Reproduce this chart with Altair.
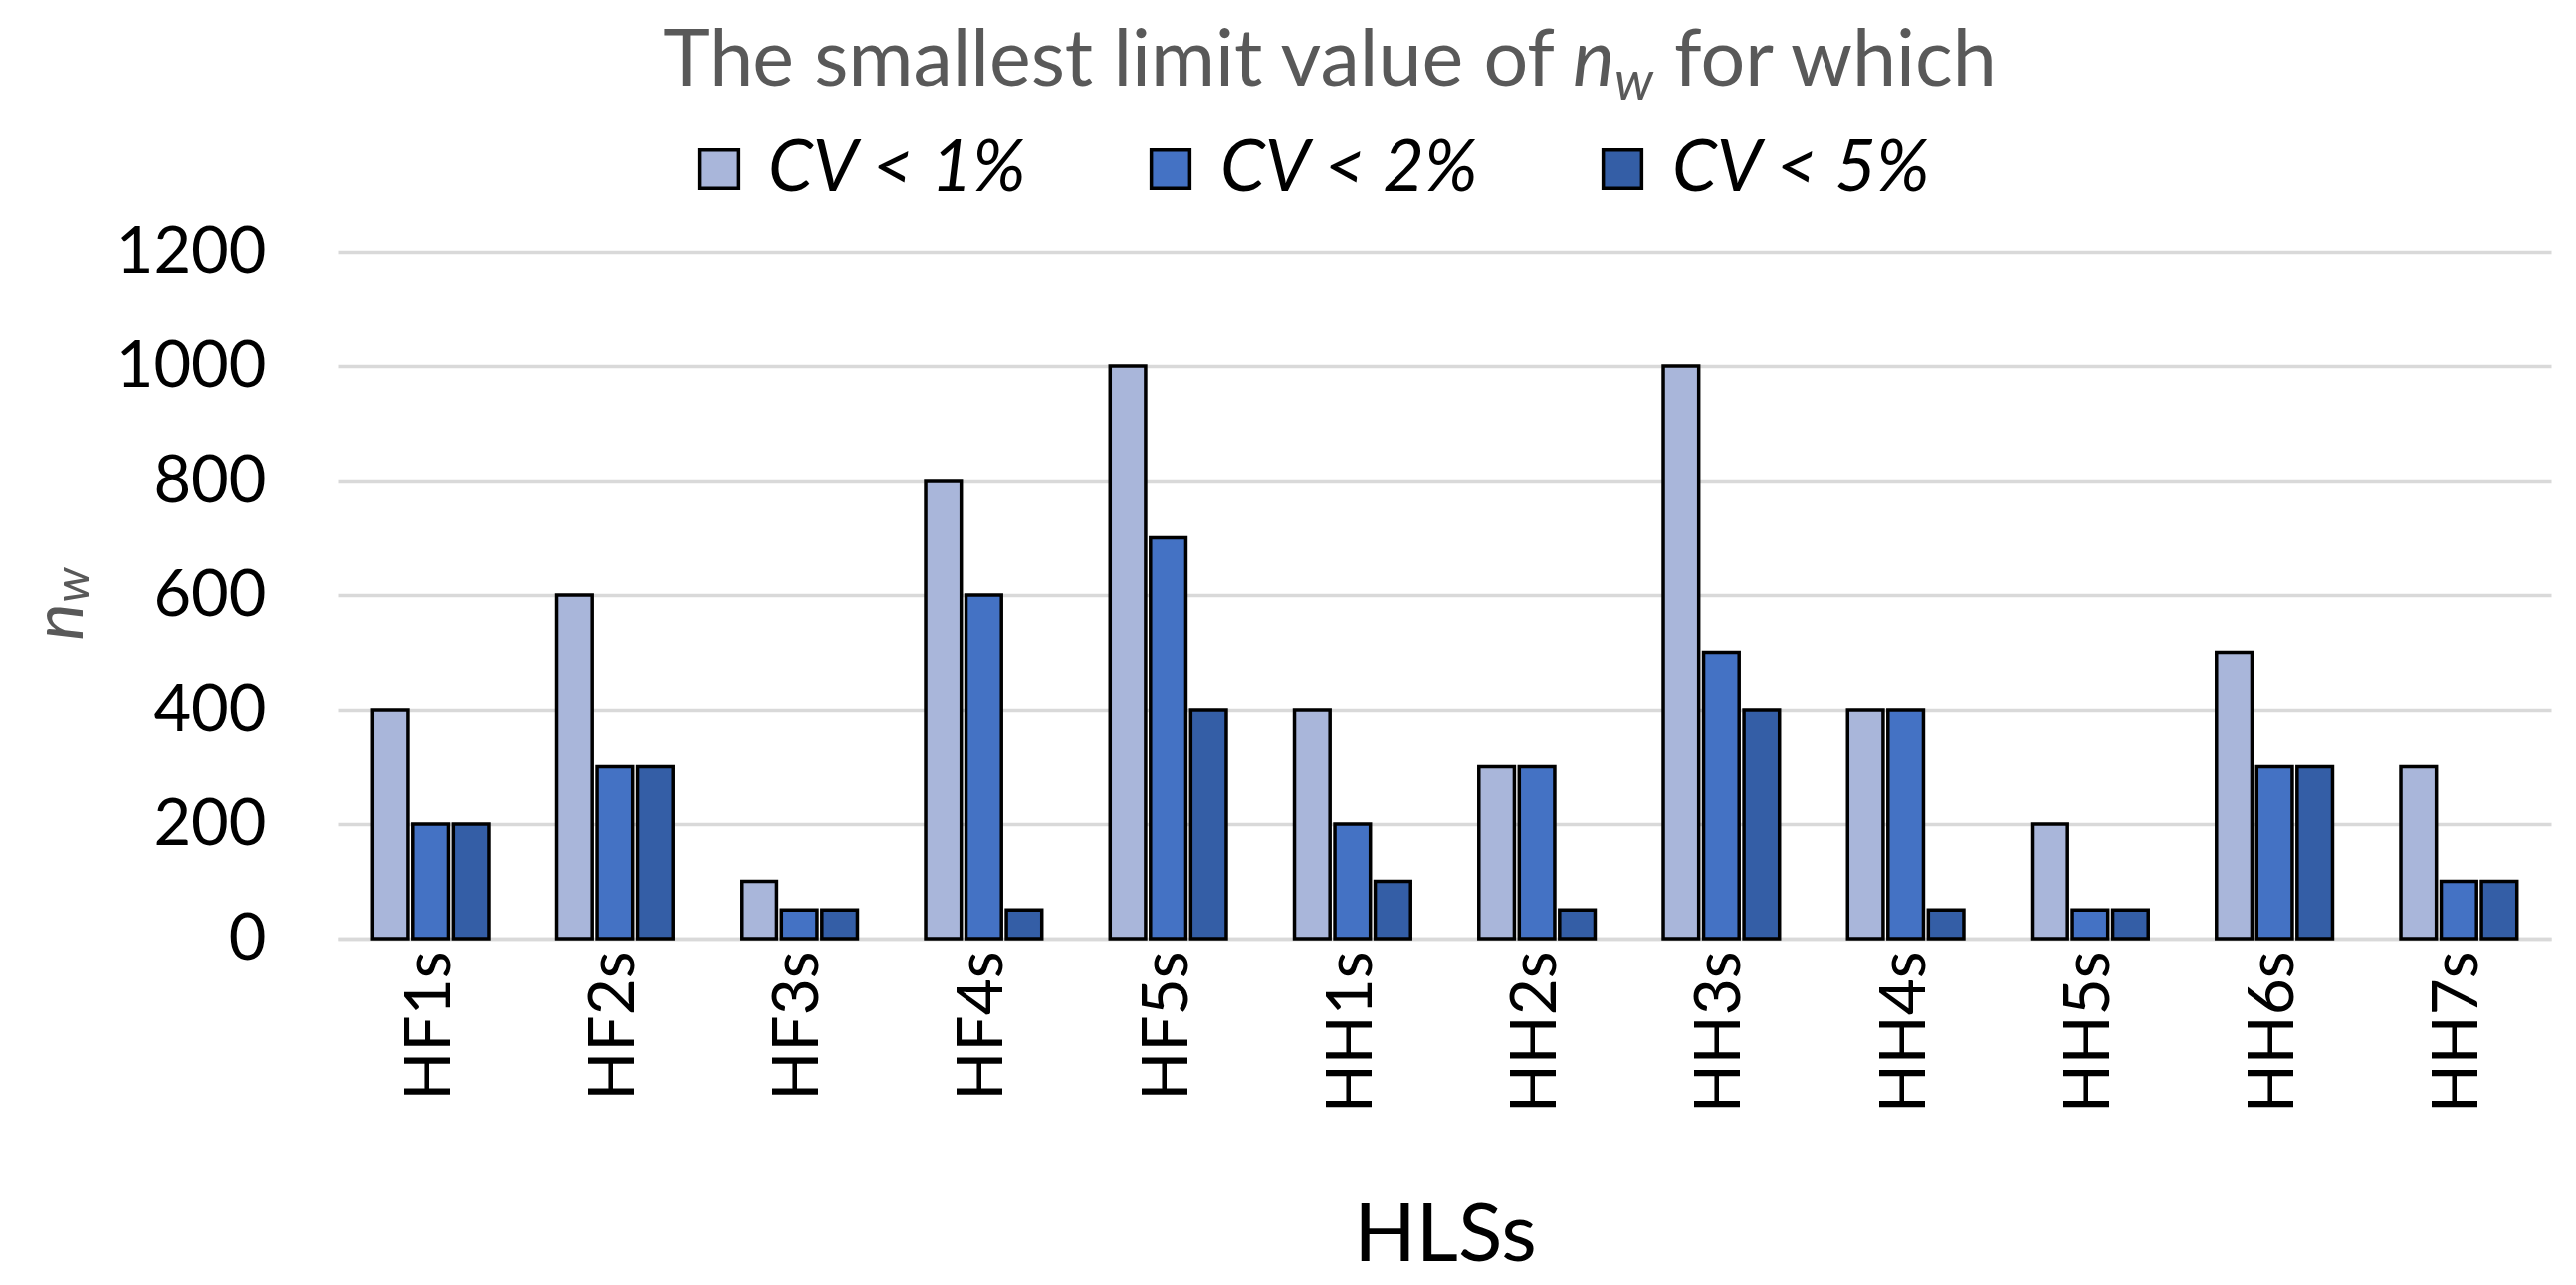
import altair as alt
import pandas as pd

categories = ["HF1s", "HF2s", "HF3s", "HF4s", "HF5s", "HH1s", "HH2s", "HH3s", "HH4s", "HH5s", "HH6s", "HH7s"]
series = ["CV < 1%", "CV < 2%", "CV < 5%"]
cv_lt_1 = [400, 600, 100, 800, 1000, 400, 300, 1000, 400, 200, 500, 300]
cv_lt_2 = [200, 300, 50, 600, 700, 200, 300, 500, 400, 50, 300, 100]
cv_lt_5 = [200, 300, 50, 50, 400, 100, 50, 400, 50, 50, 300, 100]
colors = ["#A9B6DA", "#4472C4", "#345EA6"]
y_ticks = [0, 200, 400, 600, 800, 1000, 1200]

title_left = ["The smallest limit value of"]
title_n = ["n"]
title_w = ["w"]
title_right = ["for which"]
x_title = "HLSs"

rows = []
for s, vals in zip(series, [cv_lt_1, cv_lt_2, cv_lt_5]):
    for c, v in zip(categories, vals):
        rows.append({"cat": c, "series": s, "value": v})
df = pd.DataFrame(rows)

FONT = "Lato"
W, H = 2223, 690

bars = alt.Chart(df).mark_bar(stroke="black", strokeWidth=3.5).encode(
    x=alt.X("cat:N", sort=categories,
            scale=alt.Scale(paddingInner=0.37, paddingOuter=0.185),
            axis=alt.Axis(title=x_title, labelAngle=-90, labelFontSize=64, labelFont=FONT,
                          labelColor="black", labelPadding=12, ticks=False, tickSize=0,
                          domainColor="#D9D9D9", domainWidth=3.5,
                          titleFontSize=82, titleFont=FONT, titleFontWeight="normal",
                          titleColor="black", titleY=323, titleBaseline="alphabetic")),
    xOffset=alt.XOffset("series:N", sort=series, scale=alt.Scale(paddingInner=0.12)),
    y=alt.Y("value:Q", scale=alt.Scale(domain=[0, 1200], nice=False),
            axis=alt.Axis(title=None, values=y_ticks, format="d", labelFontSize=65, labelFont=FONT,
                          labelColor="black", labelPadding=73, ticks=False, tickSize=0,
                          domain=False, grid=True, gridColor="#D9D9D9", gridWidth=3.5)),
    color=alt.Color("series:N", sort=series,
                    scale=alt.Scale(domain=series, range=colors),
                    legend=alt.Legend(title=None, orient="none", direction="horizontal",
                                      legendX=346, legendY=-119, columns=3,
                                      symbolType="square", symbolSize=1500,
                                      symbolStrokeColor="black", symbolStrokeWidth=3.5,
                                      labelFontSize=72, labelFont=FONT, labelFontStyle="italic",
                                      labelColor="black", labelOffset=14, labelLimit=0,
                                      columnPadding=107)),
)


def txt(vals, x, y, size, align="left", style="normal", angle=0, color="#595959", baseline="alphabetic"):
    return alt.Chart(pd.DataFrame({"t": vals})).mark_text(
        font=FONT, fontSize=size, fontStyle=style, align=align, baseline=baseline,
        angle=angle, color=color
    ).encode(text="t:N", x=alt.value(x), y=alt.value(y))


t1 = txt(title_left, 1222, -167, 79, align="right")
t2 = txt(title_n, 1240, -167, 79, style="italic")
t3 = txt(title_w, 1282, -153, 54, style="italic")
t4 = txt(title_right, 1342, -167, 79)

yt_n = txt(title_n, -278, 372, 70, align="center", style="italic", angle=270, baseline="middle")
yt_w = txt(title_w, -266, 335, 49, align="center", style="italic", angle=270, baseline="middle")

chart = alt.layer(bars, t1, t2, t3, t4, yt_n, yt_w).properties(
    width=W, height=H,
    autosize=alt.AutoSizeParams(type="none"),
    padding={"left": 332, "top": 245, "right": 17, "bottom": 340},
).configure_view(stroke=None)

chart.save("out.html", embed_options={"renderer": "svg", "actions": False})
